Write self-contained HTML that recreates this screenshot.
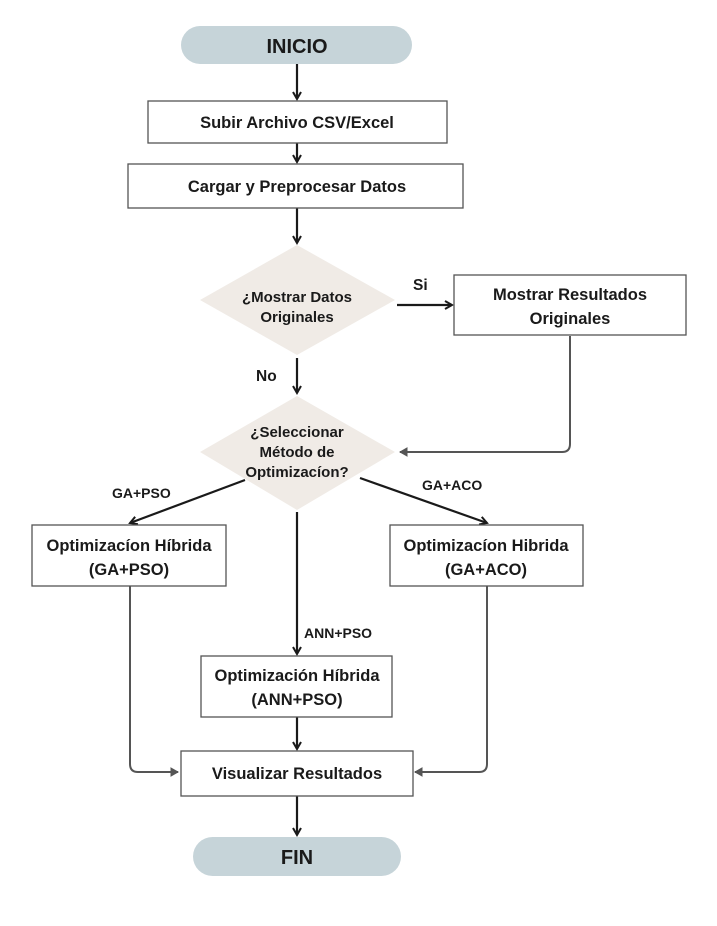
<!DOCTYPE html>
<html><head><meta charset="utf-8"><style>
html,body{margin:0;padding:0;background:#fff;}
svg text{font-family:"Liberation Sans",sans-serif;font-weight:bold;fill:#1a1a1a;}
</style></head><body>
<svg width="717" height="921" viewBox="0 0 717 921" xmlns="http://www.w3.org/2000/svg">
<defs>
<marker id="a" markerWidth="10" markerHeight="10" refX="8" refY="5" orient="auto" markerUnits="userSpaceOnUse">
<path d="M1,1 L8,5 L1,9" fill="none" stroke="#1a1a1a" stroke-width="2"/></marker>
<marker id="g" markerWidth="10" markerHeight="10" refX="8" refY="5" orient="auto" markerUnits="userSpaceOnUse">
<path d="M1,1 L8,5 L1,9 Z" fill="#555" stroke="#555" stroke-width="1"/></marker>
</defs>
<g fill="none" stroke="#1a1a1a" stroke-width="2.2">
<line x1="297" y1="64" x2="297" y2="99" marker-end="url(#a)"/>
<line x1="297" y1="143" x2="297" y2="162" marker-end="url(#a)"/>
<line x1="297" y1="208" x2="297" y2="243" marker-end="url(#a)"/>
<line x1="397" y1="305" x2="452" y2="305" marker-end="url(#a)"/>
<line x1="297" y1="358" x2="297" y2="393" marker-end="url(#a)"/>
<line x1="245" y1="480" x2="130" y2="523" marker-end="url(#a)"/>
<line x1="360" y1="478" x2="487" y2="523" marker-end="url(#a)"/>
<line x1="297" y1="512" x2="297" y2="654" marker-end="url(#a)"/>
<line x1="297" y1="717" x2="297" y2="749" marker-end="url(#a)"/>
<line x1="297" y1="796" x2="297" y2="835" marker-end="url(#a)"/>
</g>
<g fill="none" stroke="#555" stroke-width="2">
<path d="M570,336 V444 Q570,452 562,452 H400" marker-end="url(#g)"/>
<path d="M130,586 V764 Q130,772 138,772 H178" marker-end="url(#g)"/>
<path d="M487,586 V764 Q487,772 479,772 H415" marker-end="url(#g)"/>
</g>
<rect x="181" y="26" width="231" height="38" rx="19" fill="#c6d4d9"/>
<text x="297" y="53" font-size="20" text-anchor="middle">INICIO</text>
<rect x="193" y="837" width="208" height="39" rx="19.5" fill="#c6d4d9"/>
<text x="297" y="864" font-size="20" text-anchor="middle">FIN</text>
<g fill="#fff" stroke="#555" stroke-width="1.3">
<rect x="148" y="101" width="299" height="42"/>
<rect x="128" y="164" width="335" height="44"/>
<rect x="454" y="275" width="232" height="60"/>
<rect x="32" y="525" width="194" height="61"/>
<rect x="390" y="525" width="193" height="61"/>
<rect x="201" y="656" width="191" height="61"/>
<rect x="181" y="751" width="232" height="45"/>
</g>
<polygon points="297,245 395,300 297,355 200,300" fill="#f0ebe6"/>
<polygon points="297,396 395,452 297,510 200,452" fill="#f0ebe6"/>
<g font-size="16.5" text-anchor="middle">
<text x="297" y="128">Subir Archivo CSV/Excel</text>
<text x="297" y="192">Cargar y Preprocesar Datos</text>
<text x="570" y="300">Mostrar Resultados</text>
<text x="570" y="324">Originales</text>
<text x="129" y="551">Optimizacíon Híbrida</text>
<text x="129" y="575">(GA+PSO)</text>
<text x="486" y="551">Optimizacíon Hibrida</text>
<text x="486" y="575">(GA+ACO)</text>
<text x="297" y="681">Optimización Híbrida</text>
<text x="297" y="705">(ANN+PSO)</text>
<text x="297" y="779">Visualizar Resultados</text>
</g>
<g font-size="15" text-anchor="middle">
<text x="297" y="302">¿Mostrar Datos</text>
<text x="297" y="322">Originales</text>
<text x="297" y="437">¿Seleccionar</text>
<text x="297" y="457">Método de</text>
<text x="297" y="477">Optimizacíon?</text>
</g>
<g font-size="15.5">
<text x="413" y="290">Si</text>
<text x="256" y="381">No</text>
</g>
<g font-size="14">
<text x="112" y="498">GA+PSO</text>
<text x="422" y="490">GA+ACO</text>
<text x="304" y="638">ANN+PSO</text>
</g>
</svg>
</body></html>
